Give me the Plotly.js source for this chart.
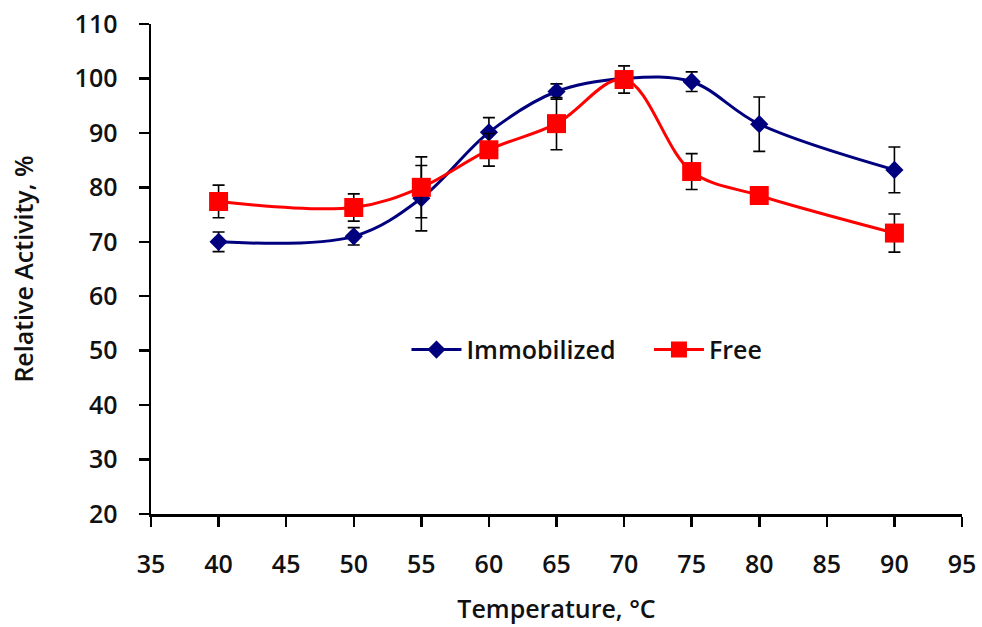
<!DOCTYPE html>
<html>
<head>
<meta charset="utf-8">
<script src="https://cdn.plot.ly/plotly-3.0.1.min.js"></script>
<style>html,body{margin:0;padding:0;background:#fff;}#chart{width:982px;height:627px;}</style>
</head>
<body>
<div id="chart"></div>
<script>
var temperature = [40, 50, 55, 60, 65, 70, 75, 80, 90];
var immobilized = [70.0, 71.0, 78.0, 90.1, 97.6, 100.0, 99.4, 91.6, 83.2];
var immobilizedErr = [1.8, 1.6, 6.0, 2.7, 1.4, 1.0, 1.8, 5.0, 4.2];
var free = [77.4, 76.3, 80.0, 86.9, 91.7, 99.8, 82.9, 78.5, 71.6];
var freeErr = [3.0, 2.5, 5.6, 3.0, 4.8, 2.5, 3.3, 0, 3.5];

var FONT = "'Open Sans', 'DejaVu Sans', sans-serif";
var TXT = {family: FONT, size: 25, color: '#111', weight: 600};

var traces = [
  {
    x: temperature, y: immobilized, name: 'Immobilized', type: 'scatter', mode: 'lines+markers',
    legend: 'legend',
    line: {color: '#00007f', width: 3, shape: 'spline', smoothing: 1},
    marker: {symbol: 'diamond', size: 14, color: '#00007f'},
    error_y: {type: 'data', array: immobilizedErr, visible: true, color: '#000000', thickness: 1.6, width: 6}
  },
  {
    x: temperature, y: free, name: 'Free', type: 'scatter', mode: 'lines+markers',
    legend: 'legend2',
    line: {color: '#ff0000', width: 3, shape: 'spline', smoothing: 1},
    marker: {symbol: 'square', size: 19, color: '#ff0000'},
    error_y: {type: 'data', array: freeErr, visible: true, color: '#000000', thickness: 1.6, width: 6}
  }
];

var axisCommon = {
  showline: true, linecolor: '#000', linewidth: 2.5, mirror: false,
  ticks: 'outside', ticklen: 10, tickwidth: 2.5, tickcolor: '#000',
  showgrid: false, zeroline: false,
  tickfont: TXT
};

var legendCommon = {
  orientation: 'h', y: 0.335, xanchor: 'left', yanchor: 'middle',
  font: TXT, bgcolor: 'rgba(0,0,0,0)', itemwidth: 50
};

var layout = {
  width: 982, height: 627,
  margin: {l: 151, r: 20, t: 24, b: 113},
  paper_bgcolor: '#fff', plot_bgcolor: '#fff',
  showlegend: true,
  legend: Object.assign({}, legendCommon, {x: 0.315}),
  legend2: Object.assign({}, legendCommon, {x: 0.614}),
  xaxis: Object.assign({}, axisCommon, {
    range: [35, 95], dtick: 5, tick0: 35, ticklabelstandoff: 16,
    title: {text: 'Temperature, °C', font: TXT, standoff: 22}
  }),
  yaxis: Object.assign({}, axisCommon, {
    range: [20, 110], dtick: 10, tick0: 20, ticklabelstandoff: 16,
    title: {text: 'Relative Activity, %', font: TXT, standoff: 34}
  })
};

Plotly.newPlot('chart', traces, layout, {displayModeBar: false, staticPlot: true});
</script>
</body>
</html>
